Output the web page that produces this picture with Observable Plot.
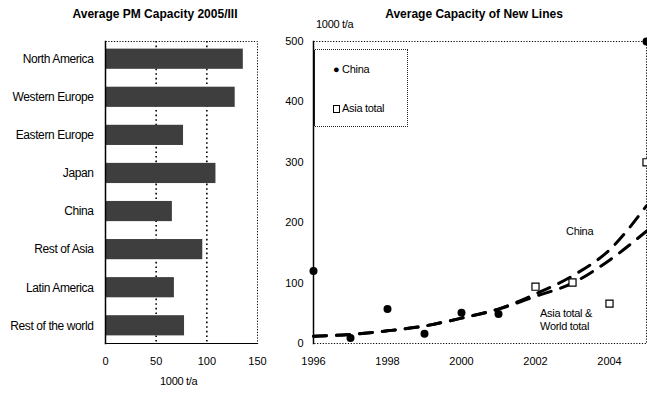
<!DOCTYPE html>
<html><head><meta charset="utf-8">
<script src="https://cdn.jsdelivr.net/npm/d3@7"></script>
<script src="https://cdn.jsdelivr.net/npm/@observablehq/plot@0.6"></script>
<style>
body{margin:0;background:#fff;}
#wrap{position:relative;width:647px;height:393px;overflow:hidden;font-family:"Liberation Sans",Arial,sans-serif;color:#000;background:#fff;}
.abs{position:absolute;white-space:nowrap;line-height:1;}
.title{font-weight:bold;font-size:12px;transform:translateX(-50%);}
.lbl{font-size:11px;letter-spacing:-0.3px;}
#legend{left:313px;top:49px;width:95px;height:78px;border:1px dotted #222;border-left:2px solid #222;box-sizing:border-box;}
#legend div{position:absolute;left:18px;font-size:11px;letter-spacing:-0.3px;}
.sq{display:inline-block;width:5px;height:6px;border:1px solid #000;margin-right:2px;vertical-align:-1px;}
svg{position:absolute;top:0;}
.ylab text{font-size:12px;letter-spacing:-0.4px;}
</style></head>
<body>
<div id="wrap">
  <div class="abs title" style="left:155px;top:8px;">Average PM Capacity 2005/III</div>
  <div class="abs title" style="left:474px;top:8px;">Average Capacity of New Lines</div>
  <div class="abs lbl" style="left:160px;top:376px;">1000 t/a</div>
  <div class="abs lbl" style="left:316px;top:19px;">1000 t/a</div>
  <div class="abs lbl" style="left:566px;top:226px;">China</div>
  <div class="abs lbl" style="left:540px;top:307px;line-height:13px;">Asia total &amp;<br>World total</div>
  <div class="abs" id="legend">
    <div style="top:14px;">&#9679; China</div>
    <div style="top:53px;"><span class="sq"></span>Asia total</div>
  </div>
</div>
<script>
// Left chart: average PM capacity 2005/III (1000 t/a)
const regions = ["North America","Western Europe","Eastern Europe","Japan","China","Rest of Asia","Latin America","Rest of the world"];
const capacity = [136, 128, 77, 109, 66, 96, 68, 78];
const capacityTicks = [0, 50, 100, 150];

// Right chart: average capacity of new lines (1000 t/a)
const chinaYears = [1996, 1997, 1998, 1999, 2000, 2001, 2005];
const chinaValues = [120, 9, 57, 16, 51, 49, 500];
const asiaYears = [2002, 2003, 2004, 2005];
const asiaValues = [94, 101, 66, 300];
const trendYears = [1996, 1997, 1998, 1999, 2000, 2001, 2002, 2003, 2004, 2005];
const chinaTrend = [12, 15, 21, 29, 42, 57, 82, 112, 155, 228];
const asiaWorldTrend = [12, 15, 21, 29, 42, 57, 78, 100, 138, 186];
const yearTicks = [1996, 1998, 2000, 2002, 2004];
const valueTicks = [0, 100, 200, 300, 400, 500];

const capData = regions.map((r, i) => ({region: r, value: capacity[i]}));
const chinaPts = chinaYears.map((y, i) => ({year: y, value: chinaValues[i]}));
const asiaPts = asiaYears.map((y, i) => ({year: y, value: asiaValues[i]}));
const trends = [
  ...trendYears.map((y, i) => ({year: y, value: chinaTrend[i], series: "China"})),
  ...trendYears.map((y, i) => ({year: y, value: asiaWorldTrend[i], series: "Asia total & World total"}))
];

const style = {fontFamily: "Liberation Sans, Arial, sans-serif", fontSize: "11px", background: "transparent", color: "#000"};

const left = Plot.plot({
  width: 280, height: 393,
  marginLeft: 105, marginRight: 23, marginTop: 41, marginBottom: 50,
  style,
  x: {domain: [0, 150]},
  y: {domain: regions, paddingInner: 0.47, paddingOuter: 0.2, round: false},
  marks: [
    Plot.ruleX([50, 100], {stroke: "#000", strokeWidth: 1.6, strokeDasharray: "1.6,3"}),
    Plot.frame({stroke: "#000", strokeDasharray: "1.2,1.6"}),
    Plot.barX(capData, {x: "value", y: "region", fill: "#3e3e3e"}),
    Plot.frame({anchor: "left", stroke: "#000", strokeWidth: 1.5}),
    Plot.frame({anchor: "bottom", stroke: "#000", strokeWidth: 1.2}),
    Plot.axisX({ticks: capacityTicks, tickSize: 0, tickPadding: 14, label: null}),
    Plot.axisY({tickSize: 0, tickPadding: 12, label: null, className: "ylab"})
  ]
});
left.style.left = "0px";

const right = Plot.plot({
  width: 367, height: 393,
  marginLeft: 33, marginRight: 1, marginTop: 41, marginBottom: 50,
  style,
  x: {domain: [1996, 2005]},
  y: {domain: [0, 500]},
  marks: [
    Plot.frame({stroke: "#000", strokeDasharray: "1.2,1.6"}),
    Plot.frame({anchor: "left", stroke: "#000", strokeWidth: 1.5}),
    Plot.axisX({ticks: yearTicks, tickFormat: d => String(d), tickSize: 0, tickPadding: 14, label: null}),
    Plot.axisY({ticks: valueTicks, tickSize: 0, tickPadding: 10, label: null}),
    Plot.line(trends, {x: "year", y: "value", z: "series", curve: "monotone-x", stroke: "#000", strokeWidth: 3, strokeDasharray: "13,10"}),
    Plot.dot(chinaPts, {x: "year", y: "value", r: 4, fill: "#000", stroke: null}),
    Plot.dot(asiaPts, {x: "year", y: "value", symbol: "square", r: 4, fill: "#fff", stroke: "#000", strokeWidth: 1.2})
  ]
});
right.style.left = "280px";

document.getElementById("wrap").append(left, right);
</script>
</body></html>
